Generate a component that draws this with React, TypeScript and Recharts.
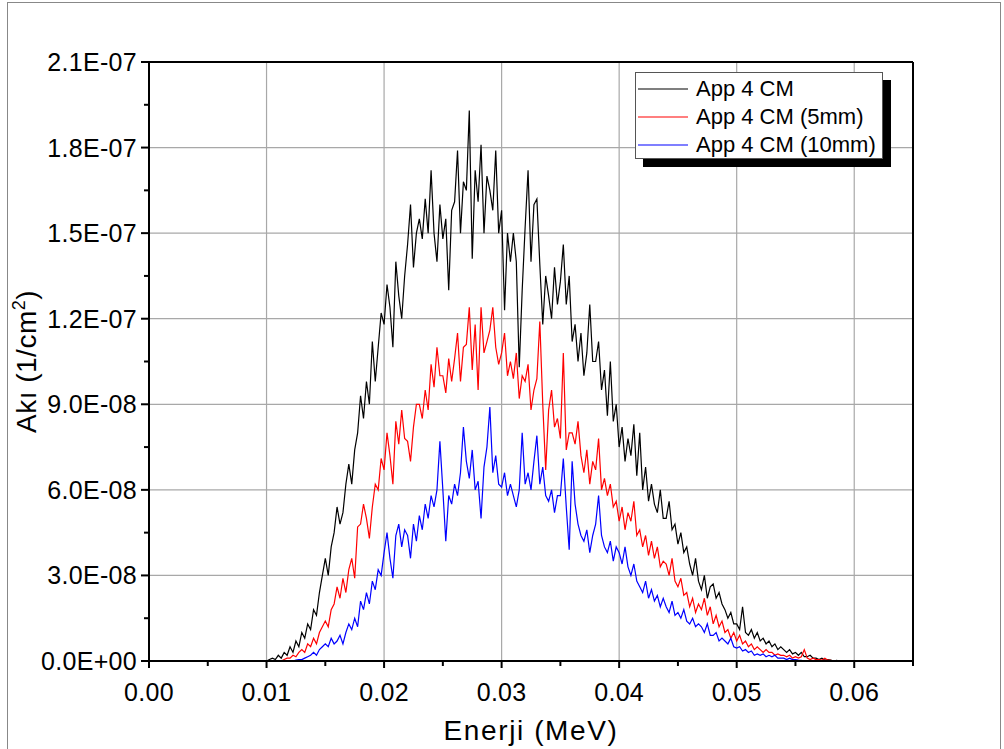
import { LineChart, Line, XAxis, YAxis, CartesianGrid, ReferenceLine } from 'recharts';

// energy grid: 0.0095 .. 0.059 MeV, every 0.00025
const E_START = 0.0095;
const E_STEP = 0.00025;
const E_MIN = 0;
const E_MAX = 0.065;

// flux values in units of 1e-9 (1/cm2)
const APP4 = [
  0, 0,
  0, 0.5, 1, 0.5,
  2, 1, 3, 2,
  5, 3, 7, 5,
  10, 8, 13, 11,
  18, 16, 24, 30,
  36, 30, 40, 45,
  54, 48, 52, 62,
  69, 62, 74, 80,
  93, 85, 98, 90,
  112, 98, 110, 122,
  118, 132, 124, 110,
  140, 128, 120, 135,
  146, 160, 138, 150,
  155, 148, 162, 150,
  172, 150, 140, 160,
  148, 155, 130, 158,
  161, 179, 150, 168,
  165, 193, 141, 172,
  161, 181, 150, 170,
  165, 158, 179, 150,
  158, 123, 150, 140,
  150, 140, 103, 130,
  152, 172, 140, 160,
  162, 139, 118, 135,
  128, 120, 138, 125,
  133, 146, 125, 135,
  112, 118, 105, 115,
  100, 108, 125, 105,
  105, 112, 95, 102,
  86, 105, 84, 90,
  75, 82, 70, 78,
  72, 83, 65, 80,
  60, 68, 56, 62,
  55, 52, 60, 50,
  50, 56, 46, 48,
  41, 45, 38, 40,
  34, 30, 36, 28,
  25, 30, 22, 26,
  27, 22, 24, 20,
  18, 15, 17, 13,
  13, 11, 19, 10,
  9, 11, 8, 10,
  7, 8, 6, 7,
  5, 6, 4, 5,
  4, 3, 4, 2.5,
  3, 2, 3, 1.5,
  1.5, 2, 1, 1,
  0.5, 1, 0.3, 0.5,
  0.3, 0, 0.2, 0,
  0,
];

const APP4_5MM = [
  0, 0,
  0, 0, 0, 0,
  0, 0, 0.5, 1,
  1, 2, 1.5, 3,
  4, 3, 6, 5,
  8, 6, 10, 12,
  14, 12, 18, 20,
  26, 22, 29, 24,
  32, 36, 29, 47,
  48, 55, 50, 43,
  54, 62, 60, 71,
  67, 80, 72, 62,
  84, 76, 88, 78,
  77, 70, 82, 90,
  90, 85, 95, 88,
  104, 96, 110, 100,
  100, 94, 106, 98,
  106, 115, 98, 110,
  111, 124, 102, 118,
  95, 124, 108, 112,
  116, 124, 110, 104,
  108, 115, 100, 105,
  99, 108, 92, 100,
  98, 104, 88, 95,
  99, 119, 90, 67,
  88, 95, 82, 85,
  78, 108, 74, 80,
  80, 76, 84, 72,
  66, 74, 62, 70,
  67, 78, 60, 64,
  58, 62, 54, 56,
  49, 54, 46, 52,
  49, 56, 44, 46,
  40, 44, 37, 42,
  36, 40, 33, 35,
  34, 30, 36, 28,
  26, 29, 23, 24,
  19, 22, 17, 20,
  18, 22, 16, 19,
  13, 16, 12, 14,
  10, 11, 8, 10,
  7, 9, 6, 7,
  5, 6, 4, 5,
  4, 3, 4, 3,
  3, 2, 2.5, 2,
  2, 1.5, 2, 1,
  1.5, 1, 1.5, 4,
  1, 0.5, 1, 0.5,
  0.5, 0.3, 1, 0.3,
  0.2, 0, 0, 0,
  0,
];

const APP4_10MM = [
  0, 0,
  0, 0, 0, 0,
  0, 0, 0, 0,
  0, 0, 0.3, 0.5,
  0.5, 1, 1.5, 2,
  3, 2, 4, 5,
  6, 5, 8, 6,
  7, 9, 6, 10,
  13, 11, 15, 12,
  21, 18, 24, 20,
  28, 25, 32, 30,
  38, 45, 36, 29,
  44, 48, 40, 46,
  44, 36, 48, 42,
  51, 46, 55, 50,
  58, 54, 60, 77,
  60, 42, 58, 55,
  62, 58, 66, 82,
  70, 64, 74, 60,
  63, 50, 68, 75,
  89, 66, 72, 62,
  61, 66, 58, 62,
  58, 54, 60, 80,
  62, 66, 60, 70,
  79, 62, 68, 58,
  56, 60, 52, 58,
  58, 71, 54, 39,
  70, 55, 48, 44,
  42, 46, 38, 44,
  48, 58, 44, 40,
  38, 42, 35, 40,
  38, 34, 40, 33,
  30, 34, 28, 26,
  24, 28, 22, 25,
  21, 23, 19, 22,
  19, 17, 21, 16,
  17, 15, 18, 14,
  13, 15, 12, 13,
  12, 10, 13, 9,
  9, 10, 7, 8,
  7, 6, 8, 5,
  4.5, 5, 3.5, 4,
  3, 3.5, 2, 2.5,
  2, 2.5, 1.5, 2,
  1.5, 2, 1, 1,
  1, 0.5, 1, 0.5,
  0.5, 0.3, 0.2, 0,
  0, 0, 0, 0,
  0, 0, 0, 0,
  0, 0, 0, 0,
  0,
];

const X_TICKS = [0, 0.005, 0.01, 0.015, 0.02, 0.025, 0.03, 0.035, 0.04, 0.045, 0.05, 0.055, 0.06, 0.065];
const X_MAJOR = [0, 0.01, 0.02, 0.03, 0.04, 0.05, 0.06];
const Y_TICKS = [0, 1.5e-8, 3e-8, 4.5e-8, 6e-8, 7.5e-8, 9e-8, 1.05e-7, 1.2e-7, 1.35e-7, 1.5e-7, 1.65e-7, 1.8e-7, 1.95e-7, 2.1e-7];
const Y_MAJOR = [0, 3e-8, 6e-8, 9e-8, 1.2e-7, 1.5e-7, 1.8e-7, 2.1e-7];
const Y_MAX = 2.1e-7;

const SERIES = [
  { key: 'a', name: 'App 4 CM', color: '#000000', values: APP4 },
  { key: 'b', name: 'App 4 CM (5mm)', color: '#ff0000', values: APP4_5MM },
  { key: 'c', name: 'App 4 CM (10mm)', color: '#0000ff', values: APP4_10MM },
];

const FONT = '"Liberation Sans", Arial, sans-serif';

const data: any[] = [{ e: E_MIN, a: 0, b: 0, c: 0 }];
APP4.forEach((_, i) => {
  const row: any = { e: Math.round((E_START + i * E_STEP) * 1e6) / 1e6 };
  SERIES.forEach(s => { row[s.key] = s.values[i] * 1e-9; });
  data.push(row);
});
data.push({ e: E_MAX, a: 0, b: 0, c: 0 });

const isMajor = (v: number, majors: number[], eps: number) => majors.some(m => Math.abs(m - v) < eps);

const fmtY = (v: number) => {
  if (v === 0) return '0.0E+00';
  const ex = Math.floor(Math.log10(v) + 1e-9);
  const ms = (v / Math.pow(10, ex)).toFixed(1);
  const es = Math.abs(ex) < 10 ? '0' + Math.abs(ex) : String(Math.abs(ex));
  return `${ms}E${ex < 0 ? '-' : '+'}${es}`;
};

function XTick({ x, y, payload }: any) {
  const major = isMajor(payload.value, X_MAJOR, 1e-6);
  return (
    <g>
      <line x1={x} y1={y} x2={x} y2={y + (major ? 7 : 5)} stroke="#000" strokeWidth={2} />
      {major && (
        <text x={x} y={y + 22} dy="0.71em" textAnchor="middle" fontSize={25} fontFamily={FONT} fill="#000" letterSpacing={0.3}>
          {payload.value.toFixed(2)}
        </text>
      )}
    </g>
  );
}

function YTick({ x, y, payload }: any) {
  const major = isMajor(payload.value, Y_MAJOR, 1e-12);
  return (
    <g>
      <line x1={x - (major ? 8 : 5)} y1={y} x2={x} y2={y} stroke="#000" strokeWidth={2} />
      {major && (
        <text x={x - 12} y={y} dy="0.36em" textAnchor="end" fontSize={25} fontFamily={FONT} fill="#000" letterSpacing={0.3}>
          {fmtY(payload.value)}
        </text>
      )}
    </g>
  );
}

function XTitle({ viewBox }: any) {
  return (
    <text x={viewBox.x + viewBox.width / 2} y={viewBox.y + 79} textAnchor="middle" fontSize={28} fontFamily={FONT} fill="#000" letterSpacing={1.6}>
      Enerji (MeV)
    </text>
  );
}

function YTitle({ viewBox }: any) {
  const cx = viewBox.x + 36;
  const cy = viewBox.y + viewBox.height / 2;
  return (
    <text x={cx} y={cy} textAnchor="middle" fontSize={28} fontFamily={FONT} fill="#000" transform={`rotate(-90, ${cx}, ${cy})`} letterSpacing={0.5}>
      Akı (1/cm<tspan dy={-11} fontSize={18}>2</tspan><tspan dy={11}>)</tspan>
    </text>
  );
}

function LegendBox() {
  return (
    <div style={{ position: 'absolute', left: 635, top: 72, width: 246, height: 85, background: '#fff', border: '1px solid #555', boxShadow: '8px 8px 0 #000', fontFamily: FONT, fontSize: 22 }}>
      {SERIES.map((s, i) => (
        <div key={s.key} style={{ position: 'absolute', left: 2, top: 2 + i * 28, height: 28, display: 'flex', alignItems: 'center', whiteSpace: 'nowrap' }}>
          <svg width={52} height={4} style={{ marginRight: 6 }}>
            <line x1={0} y1={2} x2={50} y2={2} stroke={s.color} strokeWidth={1.2} />
          </svg>
          <span>{s.name}</span>
        </div>
      ))}
    </div>
  );
}

export default function App() {
  return (
    <div style={{ position: 'absolute', left: 0, top: 0, width: 1004, height: 749, background: '#fff', overflow: 'hidden' }}>
      <div style={{ position: 'absolute', left: 7, top: 2, width: 992, height: 800, border: '1px solid #888' }} />
      <LineChart width={1004} height={749} data={data} margin={{ top: 62, right: 91, bottom: 0, left: 0 }}>
        <CartesianGrid stroke="#a8a8a8" strokeWidth={1.2} verticalValues={X_MAJOR} horizontalValues={Y_MAJOR} />
        <XAxis
          dataKey="e"
          type="number"
          domain={[E_MIN, E_MAX]}
          ticks={X_TICKS}
          interval={0}
          height={88}
          tickSize={0}
          tickMargin={0}
          tickLine={false}
          tick={<XTick />}
          axisLine={{ stroke: '#000', strokeWidth: 2 }}
          label={<XTitle />}
        />
        <YAxis
          type="number"
          domain={[0, Y_MAX]}
          ticks={Y_TICKS}
          interval={0}
          width={149}
          tickSize={0}
          tickMargin={0}
          tickLine={false}
          tick={<YTick />}
          axisLine={{ stroke: '#000', strokeWidth: 2 }}
          label={<YTitle />}
        />
        <ReferenceLine y={Y_MAX} stroke="#000" strokeWidth={2} />
        <ReferenceLine x={E_MAX} stroke="#000" strokeWidth={2} />
        {SERIES.map(s => (
          <Line key={s.key} type="linear" dataKey={s.key} name={s.name} stroke={s.color} strokeWidth={1.2} dot={false} isAnimationActive={false} />
        ))}
      </LineChart>
      <LegendBox />
    </div>
  );
}
